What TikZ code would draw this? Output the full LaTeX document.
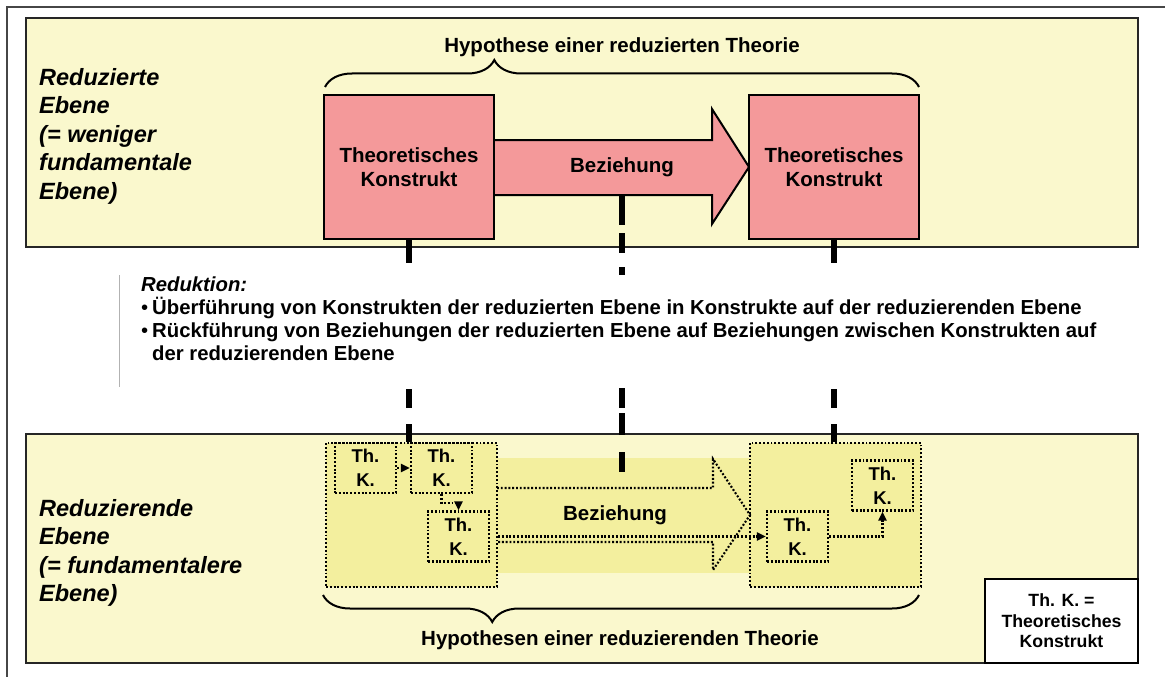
\documentclass[tikz,border=0pt]{standalone}
\usepackage{fontspec}
\setmainfont{Liberation Sans}
\usetikzlibrary{arrows.meta,decorations.pathreplacing,calc}
\definecolor{panelfill}{RGB}{250,248,205}
\definecolor{groupfill}{RGB}{243,239,158}
\definecolor{pinkfill}{RGB}{244,153,154}
\definecolor{framegray}{RGB}{70,70,70}
\begin{document}
\begin{tikzpicture}[x=1pt,y=-1pt,
  panel/.style={draw=black!85, line width=2.2pt, fill=panelfill, inner sep=0pt,
    minimum width=1112pt, minimum height=229pt},
  konstrukt/.style={draw=black, line width=2pt, fill=pinkfill, inner sep=0pt,
    minimum width=170pt, minimum height=144pt, align=center,
    font=\fontsize{20.5}{24}\selectfont\bfseries},
  dots/.style={line width=2.1pt, dash pattern=on 1.9pt off 1.9pt},
  group/.style={dots, draw=black, fill=groupfill, inner sep=0pt,
    minimum width=171pt, minimum height=144pt},
  thk/.style={dots, draw=black, inner sep=0pt, minimum width=61pt, minimum height=50pt,
    align=center, font=\fontsize{18.5}{24}\selectfont\bfseries},
  dotarrow/.style={dots, -{Triangle[length=9pt,width=8pt]}},
  link/.style={line width=5.5pt},
  bracestyle/.style={decorate, line width=2pt},
  levellabel/.style={inner sep=0pt, align=left,
    font=\fontsize{23.5}{28.5}\selectfont\bfseries\itshape},
  heading/.style={inner sep=0pt, font=\fontsize{20.5}{24}\selectfont\bfseries}
]
\useasboundingbox (0,0) rectangle (1165,677);

% frame edges
\draw[framegray, line width=2pt] (7,677) -- (7,7) -- (1165,7);

% the two levels
\node[panel] (upper) at (582,132.5) {};
\node[panel] (lower) at (582,548.5) {};

% upper level: constructs joined by a relation arrow
\draw[line width=2pt, fill=pinkfill, line join=miter]
  (480,140) -- (712,140) -- (712,109) -- (749,167) -- (712,224) -- (712,195) -- (480,195);
\coordinate (relbottom) at (622,195);
\node[konstrukt] (tkleft) at (409,167) {Theoretisches\\Konstrukt};
\node[konstrukt] (tkright) at (834,167) {Theoretisches\\Konstrukt};
\node[heading] (rel) at (622,167) {Beziehung};

\draw[bracestyle, decoration={brace, amplitude=27pt, aspect=0.285}] (325,87) -- (919,87);
\node[heading, anchor=base] (uppertitle) at (622,53) {Hypothese einer reduzierten Theorie};

\node[levellabel, anchor=north west] (upperlabel) at (39,68)
  {Reduzierte\\Ebene\\(= weniger\\fundamentale\\Ebene)};

% lower level
\fill[groupfill] (497,458) rectangle (750,573);
\node[group] (lgroup) at (411.5,515) {};
\node[group] (rgroup) at (835.5,515) {};
\draw[dots, line join=miter]
  (497,488) -- (713,488) -- (713,459) -- (750,515) -- (713,570) -- (713,542) -- (497,542);
\node[heading] (lowrel) at (615,515) {Beziehung};

\node[thk] (k1) at (365.5,468) {Th.\\K.};
\node[thk] (k2) at (441.5,468) {Th.\\K.};
\node[thk] (k3) at (458.5,536.5) {Th.\\K.};
\node[thk] (kA) at (797.5,536.5) {Th.\\K.};
\node[thk] (kB) at (882.5,485.5) {Th.\\K.};

\draw[dotarrow] (k1) -- (k2);
\draw[dotarrow] (k2.south) -- ++(0,9) -| (k3.north);
\draw[dotarrow] (lgroup.east |- kA.west) -- (kA.west);
\draw[dotarrow] (kA.east) -| (kB.south);

\draw[bracestyle, decoration={brace, amplitude=27pt, aspect=0.716}] (919,595) -- (323,595);
\node[heading, anchor=base] (lowertitle) at (620,645) {Hypothesen einer reduzierenden Theorie};

\node[levellabel, anchor=north west] (lowerlabel) at (39,499)
  {Reduzierende\\Ebene\\(= fundamentalere\\Ebene)};

\node[draw=black, line width=2pt, fill=white, minimum width=153pt, minimum height=84pt,
  align=center, font=\fontsize{17.7}{20.5}\selectfont\bfseries] (legend) at (1061.5,621)
  {Th. K. =\\Theoretisches\\Konstrukt};

% reduction links between the levels
\coordinate (relend) at (622,472);
\draw[link, dash pattern=on 23pt off 126pt on 19pt off 16pt on 20pt off 100pt]
  (tkleft.south) -- (tkleft.south |- lgroup.north);
\draw[link, dash pattern=on 23pt off 126pt on 19pt off 16pt on 20pt off 100pt]
  (tkright.south) -- (tkright.south |- rgroup.north);
\draw[link, dash pattern=on 30pt off 8pt on 20pt off 14pt on 8pt off 113pt on 20pt off 5pt on 22pt off 17pt on 20pt off 100pt]
  (relbottom) -- (relend);

% explanation of the reduction
\node[anchor=north west, inner sep=0pt, align=left,
  font=\fontsize{20.3}{23}\selectfont\bfseries] (reduction) at (141,277)
  {\textit{Reduktion:}\\
   \makebox[11pt][l]{\mdseries\textbullet}Überführung von Konstrukten der reduzierten Ebene in Konstrukte auf der reduzierenden Ebene\\
   \makebox[11pt][l]{\mdseries\textbullet}Rückführung von Beziehungen der reduzierten Ebene auf Beziehungen zwischen Konstrukten auf\\
   \hspace*{11pt}der reduzierenden Ebene};
\draw[gray!60, line width=0.8pt] ($(reduction.north west)+(-22,-2)$) -- ++(0,112);

\end{tikzpicture}
\end{document}
